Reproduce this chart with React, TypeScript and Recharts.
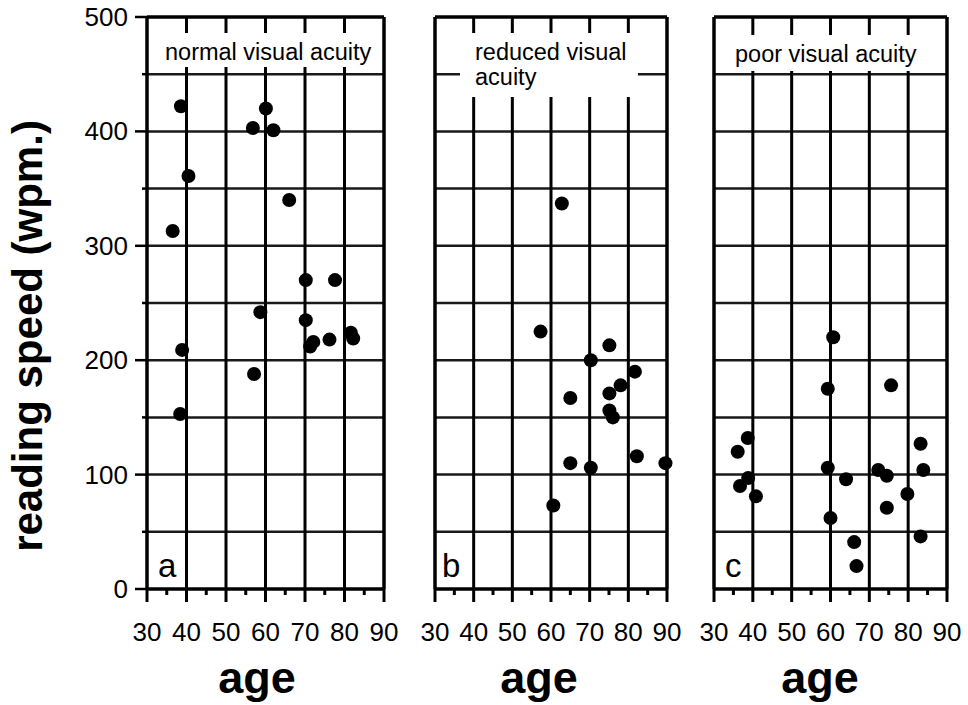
import React from "react";
import { ScatterChart, Scatter, XAxis, YAxis, ReferenceLine } from "recharts";

const FONT = '"Liberation Sans", Arial, Helvetica, sans-serif';

// tick and grid values
const ageTicks = [30, 35, 40, 45, 50, 55, 60, 65, 70, 75, 80, 85, 90];
const speedTicks = [0, 50, 100, 150, 200, 250, 300, 350, 400, 450, 500];
const gridAges = [40, 50, 60, 70, 80];
const gridSpeeds = [50, 100, 150, 200, 250, 300, 350, 400, 450];

// a: normal visual acuity
const normalAge = [38.6, 60.1, 56.8, 62.0, 40.5, 66.0, 36.5, 70.2, 77.6, 58.7, 70.2, 81.6, 82.2, 72.1, 71.3, 76.2, 38.9, 57.1, 38.4];
const normalSpeed = [422, 420, 403, 401, 361, 340, 313, 270, 270, 242, 235, 224, 219, 216, 212, 218, 209, 188, 153];

// b: reduced visual acuity
const reducedAge = [62.8, 57.3, 75.1, 70.3, 81.7, 78.0, 75.1, 65.0, 75.1, 76.0, 82.2, 89.6, 65.0, 70.3, 60.6];
const reducedSpeed = [337, 225, 213, 200, 190, 178, 171, 167, 156, 150, 116, 110, 110, 106, 73];

// c: poor visual acuity
const poorAge = [60.7, 59.3, 75.6, 38.7, 36.1, 83.2, 59.3, 72.3, 74.5, 83.9, 64.0, 38.8, 36.7, 40.8, 79.8, 74.5, 60.0, 83.2, 66.1, 66.7];
const poorSpeed = [220, 175, 178, 132, 120, 127, 106, 104, 99, 104, 96, 97, 90, 81, 83, 71, 62, 46, 41, 20];

const toPoints = (ages: number[], speeds: number[]) =>
  ages.map((age, i) => ({ age, speed: speeds[i] }));

function AgeTick(props: any) {
  const { x, y, payload } = props;
  const v = payload.value;
  const major = v % 10 === 0;
  return (
    <g>
      <line x1={x} y1={y} x2={x} y2={y + (major ? 13 : 6)} stroke="#000" strokeWidth={3} />
      {major && (
        <text x={x} y={y + 52} textAnchor="middle" fontSize={26} fontFamily={FONT} fill="#000">
          {v}
        </text>
      )}
    </g>
  );
}

function SpeedTick(props: any) {
  const { x, y, payload } = props;
  const v = payload.value;
  const major = v % 100 === 0;
  return (
    <g>
      <line x1={x - (major ? 12 : 5)} y1={y} x2={x} y2={y} stroke="#000" strokeWidth={2.5} />
      {major && (
        <text x={x - 19} y={y + 9} textAnchor="end" fontSize={26} fontFamily={FONT} fill="#000">
          {v}
        </text>
      )}
    </g>
  );
}

const Dot = (p: any) => <circle cx={p.cx} cy={p.cy} r={7} fill="#000" />;

function Panel({ data, left, width, showY }: { data: any[]; left: number; width: number; showY: boolean }) {
  return (
    <div style={{ position: "absolute", left, top: 0 }}>
      <ScatterChart
        width={width}
        height={650}
        margin={{ top: 17, right: 20, bottom: 21, left: showY ? 0 : 20 }}
        style={{ overflow: "visible" }}
      >
        <XAxis
          type="number"
          dataKey="age"
          domain={[30, 90]}
          ticks={ageTicks}
          interval={0}
          tickSize={0}
          tickMargin={0}
          axisLine={false}
          tickLine={false}
          height={40}
          tick={<AgeTick />}
        />
        <YAxis
          type="number"
          dataKey="speed"
          domain={[0, 500]}
          ticks={speedTicks}
          interval={0}
          tickSize={0}
          tickMargin={0}
          axisLine={false}
          tickLine={false}
          width={147}
          hide={!showY}
          tick={<SpeedTick />}
        />
        {gridSpeeds.map((s) => (
          <ReferenceLine key={`h${s}`} y={s} stroke="#1a1a1a" strokeWidth={2.5} />
        ))}
        {gridAges.map((a) => (
          <ReferenceLine key={`v${a}`} x={a} stroke="#000" strokeWidth={3} />
        ))}
        <ReferenceLine y={0} stroke="#000" strokeWidth={3.5} />
        <ReferenceLine y={500} stroke="#000" strokeWidth={3.5} />
        <ReferenceLine x={30} stroke="#000" strokeWidth={3.5} />
        <ReferenceLine x={90} stroke="#000" strokeWidth={3.5} />
        <Scatter data={data} shape={<Dot />} isAnimationActive={false} />
      </ScatterChart>
    </div>
  );
}

export default function App() {
  return (
    <div style={{ position: "absolute", left: 0, top: 0, width: 968, height: 705, background: "#fff", overflow: "hidden" }}>
      <Panel data={toPoints(normalAge, normalSpeed)} left={0} width={404} showY={true} />
      <Panel data={toPoints(reducedAge, reducedSpeed)} left={415} width={272} showY={false} />
      <Panel data={toPoints(poorAge, poorSpeed)} left={694} width={273} showY={false} />
      <svg
        width={968}
        height={705}
        style={{ position: "absolute", left: 0, top: 0, pointerEvents: "none" }}
        fontFamily={FONT}
      >
        <rect x={150} y={33} width={232} height={34} fill="#fff" />
        <rect x={460} y={33} width={178} height={64} fill="#fff" />
        <rect x={717} y={35} width={228} height={36} fill="#fff" />
        <text x={165} y={60} fontSize={23.5} fill="#000">normal visual acuity</text>
        <text x={475} y={60} fontSize={23.5} fill="#000">reduced visual</text>
        <text x={475} y={85} fontSize={23.5} fill="#000">acuity</text>
        <text x={735} y={62} fontSize={23.5} fill="#000">poor visual acuity</text>
        <text x={158} y={577} fontSize={33} fill="#000">a</text>
        <text x={442} y={577} fontSize={33} fill="#000">b</text>
        <text x={725} y={577} fontSize={33} fill="#000">c</text>
        <text x={257} y={693} fontSize={45} fontWeight="bold" textAnchor="middle" fill="#000">age</text>
        <text x={539} y={693} fontSize={45} fontWeight="bold" textAnchor="middle" fill="#000">age</text>
        <text x={820} y={693} fontSize={45} fontWeight="bold" textAnchor="middle" fill="#000">age</text>
        <text
          x={42}
          y={336}
          fontSize={42}
          fontWeight="bold"
          textAnchor="middle"
          fill="#000"
          transform="rotate(-90, 42, 336)"
        >
          reading speed (wpm.)
        </text>
      </svg>
    </div>
  );
}
